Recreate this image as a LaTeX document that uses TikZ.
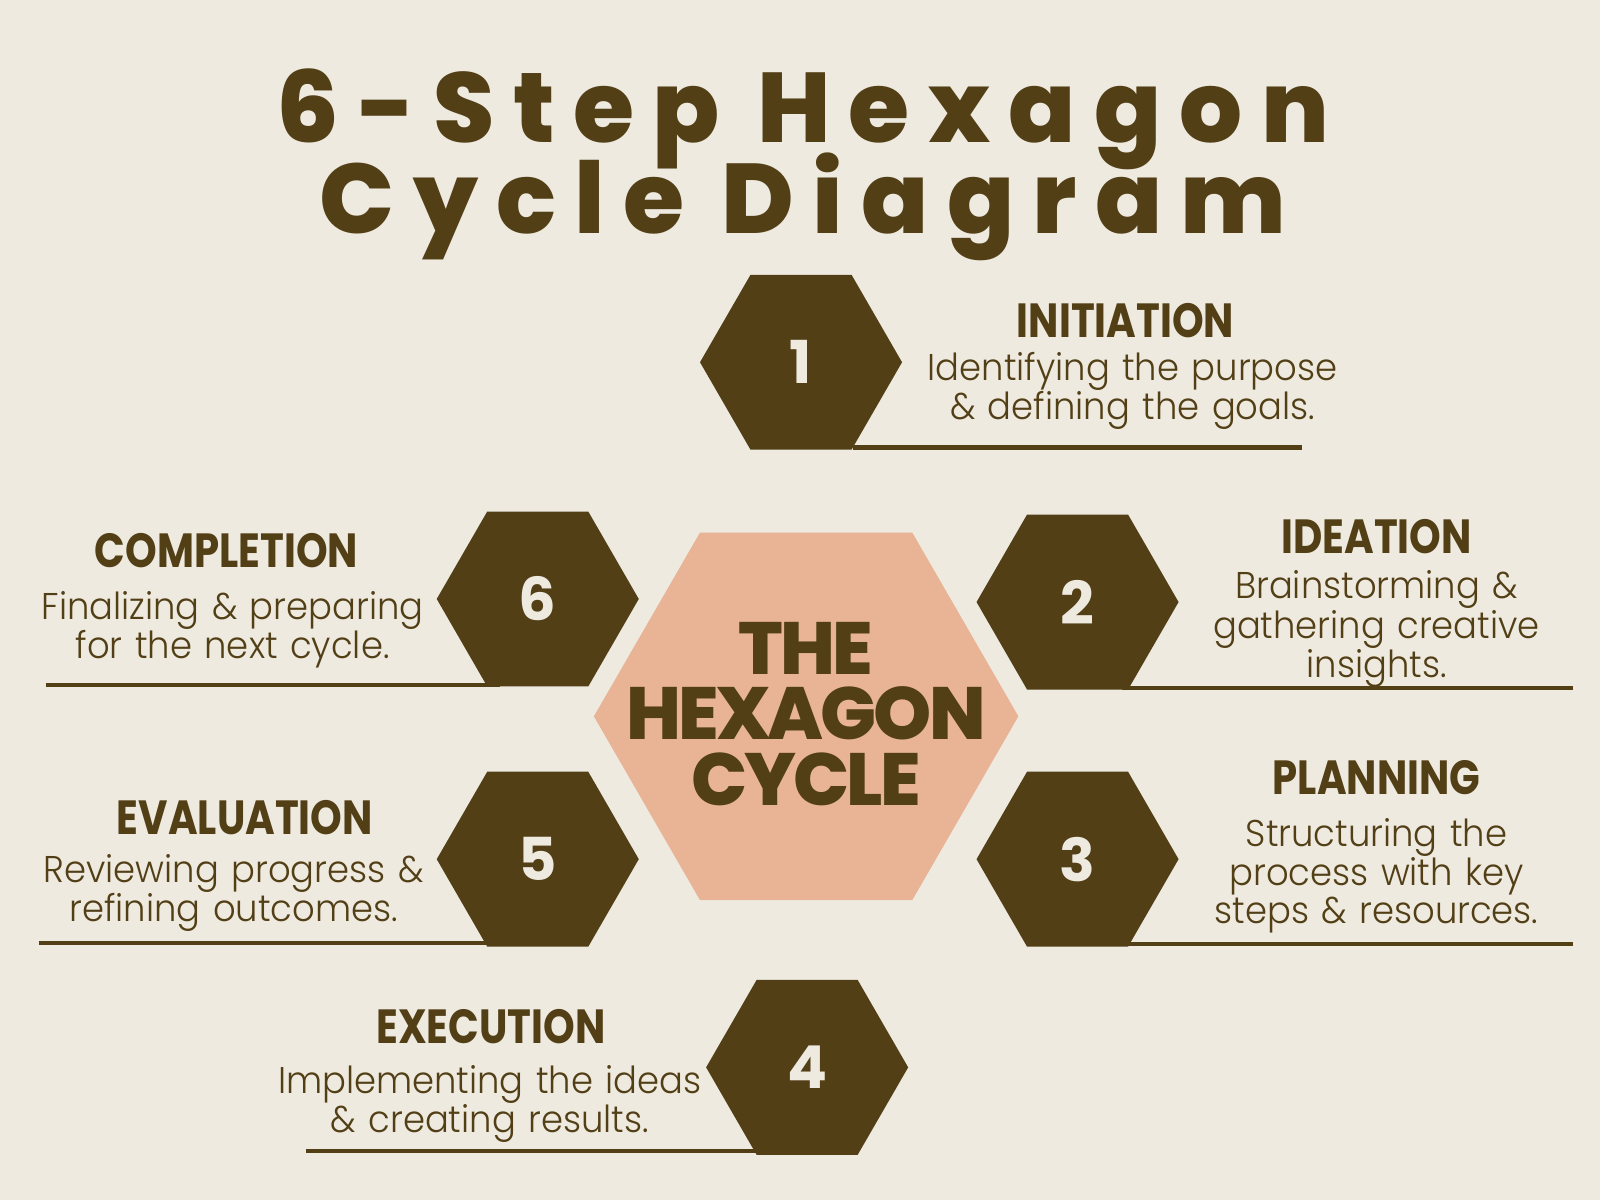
\documentclass[tikz,border=0pt]{standalone}
\usepackage{fontspec}
\usetikzlibrary{shapes.geometric}
\setmainfont{Poppins}
\newfontfamily\titlefont{Poppins ExtraBold}[LetterSpace=18.5]
\newfontfamily\centerfont{Poppins ExtraBold}[LetterSpace=-4]
\newfontfamily\labelfont{Poppins Bold}[FakeStretch=0.84]
\newfontfamily\numfont{Poppins Bold}
\newfontfamily\bodyfont{Poppins Light}[FakeStretch=0.95]
\definecolor{bgc}{RGB}{238,234,224}
\definecolor{brn}{RGB}{82,63,22}
\definecolor{peach}{RGB}{232,180,149}
\begin{document}
\begin{tikzpicture}[x=1pt,y=-1pt,
  hexa/.style={regular polygon, regular polygon sides=6, fill=brn, draw=none,
    inner sep=0pt, minimum size=198pt, text=bgc,
    font=\numfont\fontsize{58}{58}\selectfont},
  hexc/.style={regular polygon, regular polygon sides=6, fill=peach, draw=none,
    inner sep=0pt, minimum size=416pt},
  ttl/.style={anchor=base, inner sep=0pt, text=brn, font=\titlefont\fontsize{97}{97}\selectfont},
  lab/.style={anchor=base, inner sep=0pt, text=brn, font=\labelfont\fontsize{47}{47}\selectfont},
  body/.style={anchor=base, inner sep=0pt, text=brn, text width=600pt, align=center,
    font=\bodyfont\fontsize{36.5}{35}\selectfont},
  ctext/.style={anchor=base, inner sep=0pt, text=brn, text height=52pt, text depth=0pt,
    font=\centerfont\fontsize{72.5}{64}\selectfont},
  uline/.style={draw=brn, line width=4pt}]
\fill[bgc] (0,0) rectangle (1568,1176);
\useasboundingbox (0,0) rectangle (1568,1176);
% title
\node[ttl] (t1) at (787,140) {6-Step Hexagon};
\node[ttl] (t2) at (787,229) {Cycle Diagram};
% underlines
\coordinate (l1a) at (836,438.5); \coordinate (l1b) at (1276,438.5);
\coordinate (l6a) at (45,671);    \coordinate (l6b) at (490,671);
\coordinate (l2a) at (1100,674);  \coordinate (l2b) at (1542,674);
\coordinate (l5a) at (38,924);    \coordinate (l5b) at (480,924);
\coordinate (l3a) at (1100,925);  \coordinate (l3b) at (1542,925);
\coordinate (l4a) at (300,1128);  \coordinate (l4b) at (745,1128);
\draw[uline] (l1a) -- (l1b);
\draw[uline] (l6a) -- (l6b);
\draw[uline] (l2a) -- (l2b);
\draw[uline] (l5a) -- (l5b);
\draw[uline] (l3a) -- (l3b);
\draw[uline] (l4a) -- (l4b);
% hexagons
\node[hexc] (hc) at (790,702) {};
\node[hexa] (h1) at (785,355) {1};
\node[hexa] (h2) at (1056,590) {2};
\node[hexa] (h3) at (1056,842) {3};
\node[hexa] (h4) at (791,1046) {4};
\node[hexa] (h5) at (527,842) {5};
\node[hexa] (h6) at (527,587) {6};
% centre text
\node[ctext] (ct1) at (790,661) {THE};
\node[ctext] (ct2) at (790,725) {HEXAGON};
\node[ctext] (ct3) at (790,789) {CYCLE};
% labels
\node[lab] (n1) at (1103,331) {INITIATION};
\node[body] (b1) at (1110,373) {Identifying the purpose\\\& defining the goals.};
\node[lab] (n2) at (1349,542) {IDEATION};
\node[body] (b2) at (1349,587) {Brainstorming \&\\gathering creative\\insights.};
\node[lab] (n3) at (1349,779) {PLANNING};
\node[body] (b3) at (1349,830) {Structuring the\\process with key\\steps \& resources.};
\node[lab] (n4) at (481,1023) {EXECUTION};
\node[body] (b4) at (480,1072) {Implementing the ideas\\\& creating results.};
\node[lab] (n5) at (240,818) {EVALUATION};
\node[body] (b5) at (229,865) {Reviewing progress \&\\refining outcomes.};
\node[lab] (n6) at (222,556) {COMPLETION};
\node[body] (b6) at (228,607) {Finalizing \& preparing\\for the next cycle.};
\end{tikzpicture}
\end{document}
